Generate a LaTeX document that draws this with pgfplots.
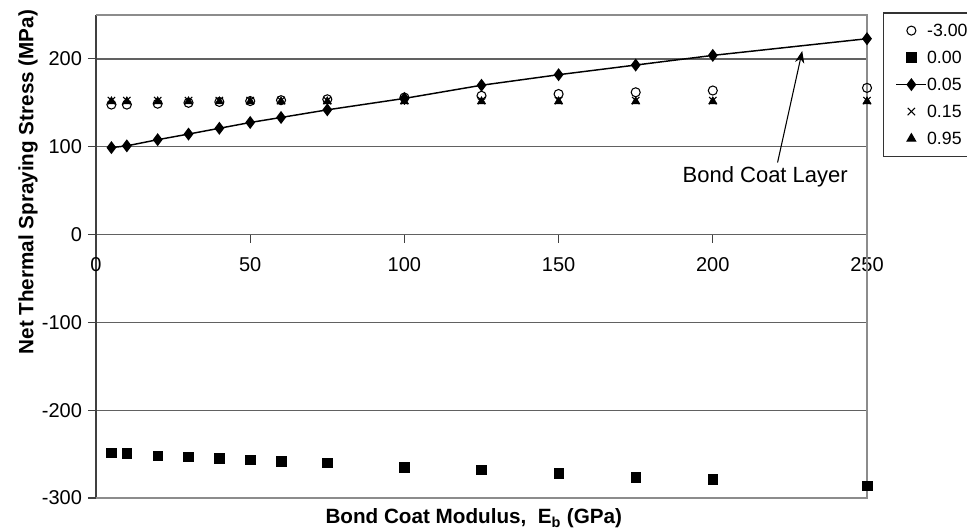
\documentclass[border=0pt]{standalone}
\usepackage{fontspec}
\setmainfont{Liberation Sans}
\usepackage{pgfplots}
\pgfplotsset{compat=1.18}
\usetikzlibrary{arrows.meta}
\definecolor{gridc}{gray}{0.38}
\definecolor{borderc}{gray}{0.55}
\pgfplotsset{myleg/.style={legend image code/.code={\draw[mark repeat=2,mark phase=2,##1] plot coordinates {(0pt,0pt)(11.25pt,0pt)(22.5pt,0pt)};}}}
\begin{document}
\begin{tikzpicture}
\begin{axis}[
  scale only axis,
  width=578.25pt, height=362.25pt,
  xmin=0, xmax=250, ymin=-300, ymax=250,
  axis x line*=middle, axis y line*=left,
  hide obscured x ticks=false, hide obscured y ticks=false,
  xtick={0,50,...,250}, ytick={-300,-200,...,200},
  tick align=outside,
  major tick length=6pt,
  ymajorgrids, grid style={gridc, line width=0.9pt},
  x axis line style={gridc, line width=0.9pt},
  y axis line style={black!75, line width=1pt},
  tick style={black!75, line width=0.8pt},
  /pgf/number format/assume math mode=true,
  ticklabel style={font=\fontsize{15}{18}\selectfont},
  xticklabel style={yshift=-8pt},
  yticklabel style={xshift=-1pt},
  xlabel={\textbf{Bond Coat Modulus,\ \ E\textsubscript{b} (GPa)}},
  ylabel={\textbf{Net Thermal Spraying Stress (MPa)}},
  xlabel style={font=\fontsize{15.5}{18}\selectfont, at={(axis description cs:0.49,-0.041)}, anchor=center},
  ylabel style={font=\fontsize{15.5}{18}\selectfont, at={(axis description cs:-0.088,0.654)}, anchor=center},
  legend style={at={(rel axis cs:1.0208,1.0055)}, anchor=north west,
    draw=black!80, line width=0.9pt, font=\fontsize{13.3}{16}\selectfont,
    row sep=10.75pt, inner xsep=9pt, inner ysep=8.5pt,
    nodes={inner xsep=0pt, inner ysep=0pt, text height=9.5pt, text depth=0pt},
    cells={anchor=west}},
  legend cell align=left,
  clip=false,
]
\coordinate (O) at (rel axis cs:0,0);
\draw[borderc, line width=0.9pt] (rel axis cs:0,0) -- (rel axis cs:1,0) -- (rel axis cs:1,1) -- (rel axis cs:0,1);

\addplot[only marks, mark=o, mark size=3.4pt, black, mark options={line width=0.8pt}, myleg]
  coordinates {(5,148)(10,148)(20,149)(30,150)(40,151)(50,152)(60,153)(75,154)(100,156)(125,158)(150,160)(175,162)(200,164)(250,167)};
\addlegendentry{-3.00}
\addplot[only marks, mark=square*, mark size=3.6pt, black, myleg]
  coordinates {(5,-248.5)(10,-249)(20,-252)(30,-253)(40,-254.5)(50,-256.4)(60,-258.3)(75,-260)(100,-264.8)(125,-267.8)(150,-272)(175,-276.5)(200,-279)(250,-286)};
\addlegendentry{0.00}
\addplot[mark=diamond*, mark size=4pt, black, line width=1.1pt, myleg]
  coordinates {(5,99)(10,101)(20,108)(30,114.4)(40,121)(50,127.6)(60,133.3)(75,142)(100,155)(125,170)(150,182)(175,193)(200,204)(250,223)};
\addlegendentry{0.05}
\addplot[only marks, mark=x, mark size=3.9pt, black, mark options={line width=0.8pt}, myleg]
  coordinates {(5,152.5)(10,152.5)(20,152.5)(30,152.5)(40,152.5)(50,152.5)(60,152.5)(75,152.5)(100,152.5)(125,152.5)(150,152.5)(175,152.5)(200,152.5)(250,152.5)};
\addlegendentry{0.15}
\addplot[only marks, mark=triangle*, mark size=3.6pt, black, myleg]
  coordinates {(5,151.5)(10,151.5)(20,151.5)(30,151.5)(40,151.5)(50,151.5)(60,151.5)(75,151.5)(100,151.5)(125,151.5)(150,151.5)(175,151.5)(200,151.5)(250,151.5)};
\addlegendentry{0.95}

\node[font=\fontsize{16.5}{19}\selectfont] at (axis cs:217,66) {Bond Coat Layer};
\draw[black, line width=0.8pt, -{Stealth[length=9pt,width=7pt]}] (axis cs:221,82) -- (axis cs:229,209);
\end{axis}
\pgfresetboundingbox
\useasboundingbox ([shift={(-72pt,-24.75pt)}]O) rectangle ([shift={(653.25pt,373.5pt)}]O);
\end{tikzpicture}
\end{document}
